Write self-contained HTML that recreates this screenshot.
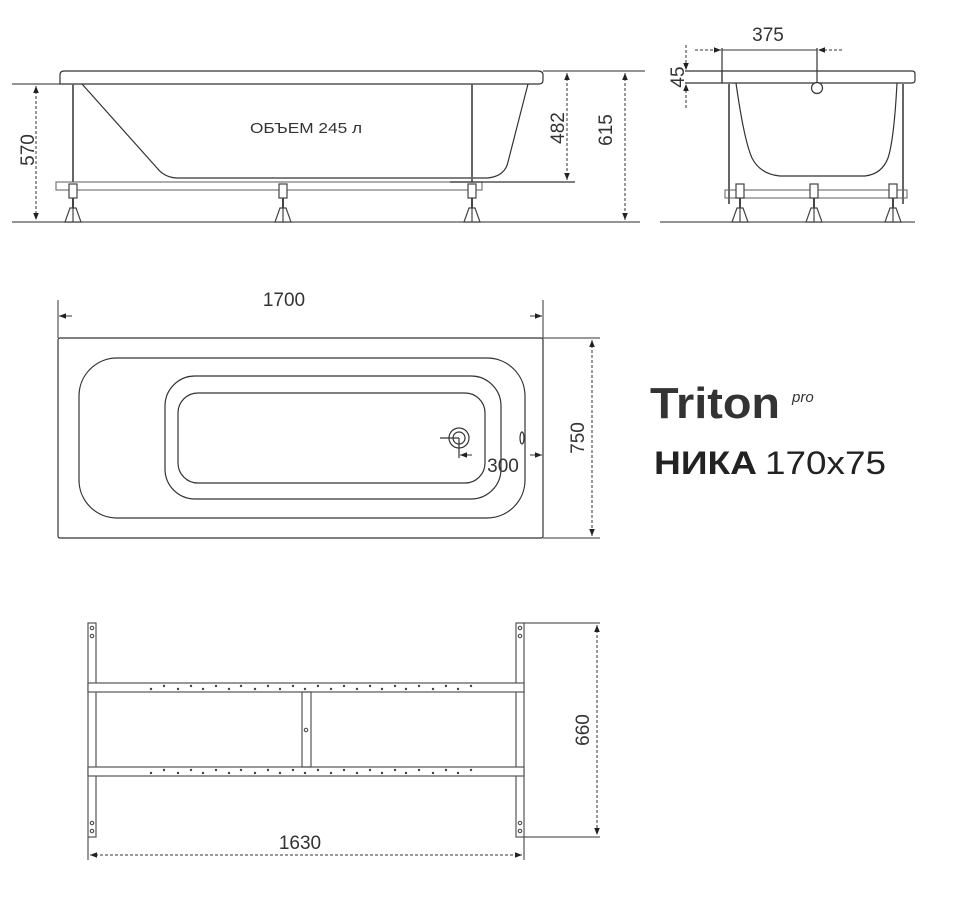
<!DOCTYPE html>
<html><head><meta charset="utf-8"><style>
html,body{margin:0;padding:0;background:#fff;width:973px;height:910px;overflow:hidden}
svg{display:block}
text{font-family:"Liberation Sans",sans-serif;fill:#333}
</style></head><body>
<svg width="973" height="910" viewBox="0 0 973 910" xmlns="http://www.w3.org/2000/svg">
<defs>
<marker id="a" viewBox="0 0 10 10" refX="10" refY="5" markerWidth="7" markerHeight="7" orient="auto-start-reverse"><path d="M0,1 L10,5 L0,9z" fill="#222"/></marker>
<g id="foot">
<line x1="0" y1="184" x2="0" y2="210" stroke="#444" stroke-width="2"/>
<rect x="-4" y="184" width="8" height="14" fill="#fff" stroke="#444" stroke-width="1.2"/>
<path d="M-3,208 L3,208 L8,222 L-8,222z" fill="#fff" stroke="#444" stroke-width="1.2"/>
<line x1="0" y1="208" x2="0" y2="222" stroke="#444"/>
</g>
</defs>
<g fill="none" stroke="#333" stroke-width="1.2">
<line x1="12" y1="222" x2="640" y2="222" stroke="#555"/>
<line x1="12" y1="84" x2="60" y2="84" stroke="#555"/>
<line x1="543" y1="71" x2="645" y2="71" stroke="#555"/>
<path d="M64,71 L538,71 Q543,71 543,75 L543,80 Q543,84 539,84 L60,84 L60,75 Q60,71 64,71z"/>
<path d="M82,84 L157,168 Q165,178 178,178 L455,178 L488,178 Q505,176 508,162 L528,84"/>
<rect x="56" y="182" width="426" height="8" stroke="#777"/>
<line x1="73" y1="84" x2="73" y2="182" stroke="#666" stroke-width="2"/>
<line x1="472" y1="84" x2="472" y2="182" stroke="#666" stroke-width="2"/>
<line x1="450" y1="182" x2="575" y2="182"/>
<g stroke="#333" stroke-width="1" stroke-dasharray="3,2">
<line x1="36" y1="86" x2="36" y2="220" marker-start="url(#a)" marker-end="url(#a)"/>
<line x1="567" y1="73" x2="567" y2="180" marker-start="url(#a)" marker-end="url(#a)"/>
<line x1="625" y1="73" x2="625" y2="220" marker-start="url(#a)" marker-end="url(#a)"/>
</g>
<use href="#foot" x="73"/><use href="#foot" x="283"/><use href="#foot" x="472"/>
<line x1="660" y1="222" x2="915" y2="222" stroke="#555"/>
<line x1="685" y1="71" x2="722" y2="71"/>
<line x1="685" y1="83" x2="722" y2="83"/>
<path d="M722,71 L912,71 Q915,71 915,74 L915,80 Q915,83 912,83 L722,83z"/>
<line x1="722" y1="48" x2="722" y2="83"/>
<line x1="817" y1="48" x2="817" y2="90"/>
<circle cx="817" cy="88" r="5.5" fill="#fff"/>
<path d="M736,83 Q744,140 752,158 Q760,174 780,176 L865,176 Q882,174 888,158 Q894,140 897,83"/>
<rect x="725" y="190" width="182" height="8" stroke="#777"/>
<line x1="729" y1="84" x2="729" y2="204" stroke="#666" stroke-width="2"/>
<line x1="903" y1="84" x2="903" y2="204" stroke="#666" stroke-width="2"/>
<use href="#foot" x="740"/><use href="#foot" x="814"/><use href="#foot" x="893"/>
<g stroke-width="1" stroke-dasharray="3,2">
<line x1="695" y1="50" x2="721" y2="50" marker-end="url(#a)"/>
<line x1="842" y1="50" x2="818" y2="50" marker-end="url(#a)"/>
<line x1="686" y1="45" x2="686" y2="70" marker-end="url(#a)"/>
<line x1="686" y1="108" x2="686" y2="84" marker-end="url(#a)"/>
</g>
<line x1="722" y1="50" x2="817" y2="50" stroke-width="1"/>
<rect x="58" y="338" width="485" height="200" rx="2"/>
<rect x="79" y="358" width="446" height="160" rx="38"/>
<rect x="165" y="376" width="336" height="123" rx="30"/>
<rect x="178" y="393" width="307" height="90" rx="20"/>
<circle cx="459" cy="438" r="10"/><circle cx="459" cy="438" r="6"/>
<line x1="440" y1="438" x2="459" y2="438"/><line x1="459" y1="438" x2="459" y2="458"/>
<ellipse cx="522" cy="438" rx="2" ry="6"/>
<line x1="58" y1="300" x2="58" y2="338" stroke-width="1"/>
<line x1="543" y1="300" x2="543" y2="338" stroke-width="1"/>
<line x1="543" y1="338" x2="600" y2="338" stroke-width="1"/>
<line x1="543" y1="538" x2="600" y2="538" stroke-width="1"/>
<line x1="72" y1="316" x2="59" y2="316" stroke-width="1" marker-end="url(#a)"/>
<line x1="530" y1="316" x2="542" y2="316" stroke-width="1" marker-end="url(#a)"/>
<line x1="530" y1="455" x2="542" y2="455" stroke-width="1" marker-end="url(#a)"/>
<line x1="472" y1="455" x2="460" y2="455" stroke-width="1" marker-end="url(#a)"/>
<line x1="592" y1="340" x2="592" y2="536" stroke-width="1" stroke-dasharray="3,2" marker-start="url(#a)" marker-end="url(#a)"/>
<g stroke="#555">
<rect x="88" y="623" width="8" height="214"/>
<rect x="516" y="623" width="8" height="214"/>
<rect x="88" y="683" width="436" height="9" fill="#fff"/>
<rect x="88" y="767" width="436" height="9" fill="#fff"/>
<rect x="302" y="692" width="9" height="75"/>
<circle cx="92" cy="628" r="1.7"/><circle cx="92" cy="636" r="1.7"/>
<circle cx="92" cy="823" r="1.7"/><circle cx="92" cy="831" r="1.7"/>
<circle cx="520" cy="628" r="1.7"/><circle cx="520" cy="636" r="1.7"/>
<circle cx="520" cy="823" r="1.7"/><circle cx="520" cy="831" r="1.7"/>
<circle cx="306" cy="730" r="1.7"/>
</g>
<line x1="524" y1="623" x2="600" y2="623" stroke-width="1"/>
<line x1="524" y1="837" x2="600" y2="837" stroke-width="1"/>
<line x1="597" y1="625" x2="597" y2="835" stroke-width="1" stroke-dasharray="3,2" marker-start="url(#a)" marker-end="url(#a)"/>
<line x1="88" y1="837" x2="88" y2="860" stroke-width="1"/>
<line x1="524" y1="837" x2="524" y2="860" stroke-width="1"/>
<line x1="90" y1="855" x2="522" y2="855" stroke-width="1" stroke-dasharray="3,2" marker-start="url(#a)" marker-end="url(#a)"/>
</g>
<g fill="#444">
<circle cx="151" cy="689" r="1.2"/><circle cx="164" cy="686" r="1.2"/><circle cx="178" cy="689" r="1.2"/><circle cx="191" cy="686" r="1.2"/><circle cx="203" cy="689" r="1.2"/><circle cx="216" cy="686" r="1.2"/><circle cx="229" cy="689" r="1.2"/><circle cx="241" cy="686" r="1.2"/><circle cx="255" cy="689" r="1.2"/><circle cx="268" cy="686" r="1.2"/><circle cx="280" cy="689" r="1.2"/><circle cx="293" cy="686" r="1.2"/><circle cx="305" cy="689" r="1.2"/><circle cx="318" cy="686" r="1.2"/><circle cx="331" cy="689" r="1.2"/><circle cx="344" cy="686" r="1.2"/><circle cx="357" cy="689" r="1.2"/><circle cx="370" cy="686" r="1.2"/><circle cx="382" cy="689" r="1.2"/><circle cx="395" cy="686" r="1.2"/><circle cx="406" cy="689" r="1.2"/><circle cx="419" cy="686" r="1.2"/><circle cx="433" cy="689" r="1.2"/><circle cx="446" cy="686" r="1.2"/><circle cx="458" cy="689" r="1.2"/><circle cx="471" cy="686" r="1.2"/>
<circle cx="151" cy="773" r="1.2"/><circle cx="164" cy="770" r="1.2"/><circle cx="178" cy="773" r="1.2"/><circle cx="191" cy="770" r="1.2"/><circle cx="203" cy="773" r="1.2"/><circle cx="216" cy="770" r="1.2"/><circle cx="229" cy="773" r="1.2"/><circle cx="241" cy="770" r="1.2"/><circle cx="255" cy="773" r="1.2"/><circle cx="268" cy="770" r="1.2"/><circle cx="280" cy="773" r="1.2"/><circle cx="293" cy="770" r="1.2"/><circle cx="305" cy="773" r="1.2"/><circle cx="318" cy="770" r="1.2"/><circle cx="331" cy="773" r="1.2"/><circle cx="344" cy="770" r="1.2"/><circle cx="357" cy="773" r="1.2"/><circle cx="370" cy="770" r="1.2"/><circle cx="382" cy="773" r="1.2"/><circle cx="395" cy="770" r="1.2"/><circle cx="406" cy="773" r="1.2"/><circle cx="419" cy="770" r="1.2"/><circle cx="433" cy="773" r="1.2"/><circle cx="446" cy="770" r="1.2"/><circle cx="458" cy="773" r="1.2"/><circle cx="471" cy="770" r="1.2"/>
</g>
<text x="250" y="133" font-size="15" textLength="112" lengthAdjust="spacingAndGlyphs">ОБЪЕМ 245 л</text>
<text transform="translate(34,150) rotate(-90)" font-size="19" text-anchor="middle">570</text>
<text transform="translate(564,128) rotate(-90)" font-size="19" text-anchor="middle">482</text>
<text transform="translate(612,130) rotate(-90)" font-size="19" text-anchor="middle">615</text>
<text x="768" y="41" font-size="19" text-anchor="middle">375</text>
<text transform="translate(684,77) rotate(-90)" font-size="19" text-anchor="middle">45</text>
<text x="284" y="306" font-size="19" text-anchor="middle">1700</text>
<text x="503" y="472" font-size="19" text-anchor="middle">300</text>
<text transform="translate(584,438) rotate(-90)" font-size="19" text-anchor="middle">750</text>
<text transform="translate(589,730) rotate(-90)" font-size="19" text-anchor="middle">660</text>
<text x="300" y="849" font-size="19" text-anchor="middle">1630</text>
<text x="650" y="418" font-size="44" font-weight="bold" textLength="130" lengthAdjust="spacingAndGlyphs" style="fill:#333">Triton</text>
<text x="792" y="402" font-size="15" font-style="italic" style="fill:#333">pro</text>
<text x="654" y="474" font-size="32" font-weight="bold" textLength="103" lengthAdjust="spacingAndGlyphs" style="fill:#222">НИКА</text>
<text x="765" y="474" font-size="32" textLength="121" lengthAdjust="spacingAndGlyphs" style="fill:#222">170x75</text>
</svg>
</body></html>
